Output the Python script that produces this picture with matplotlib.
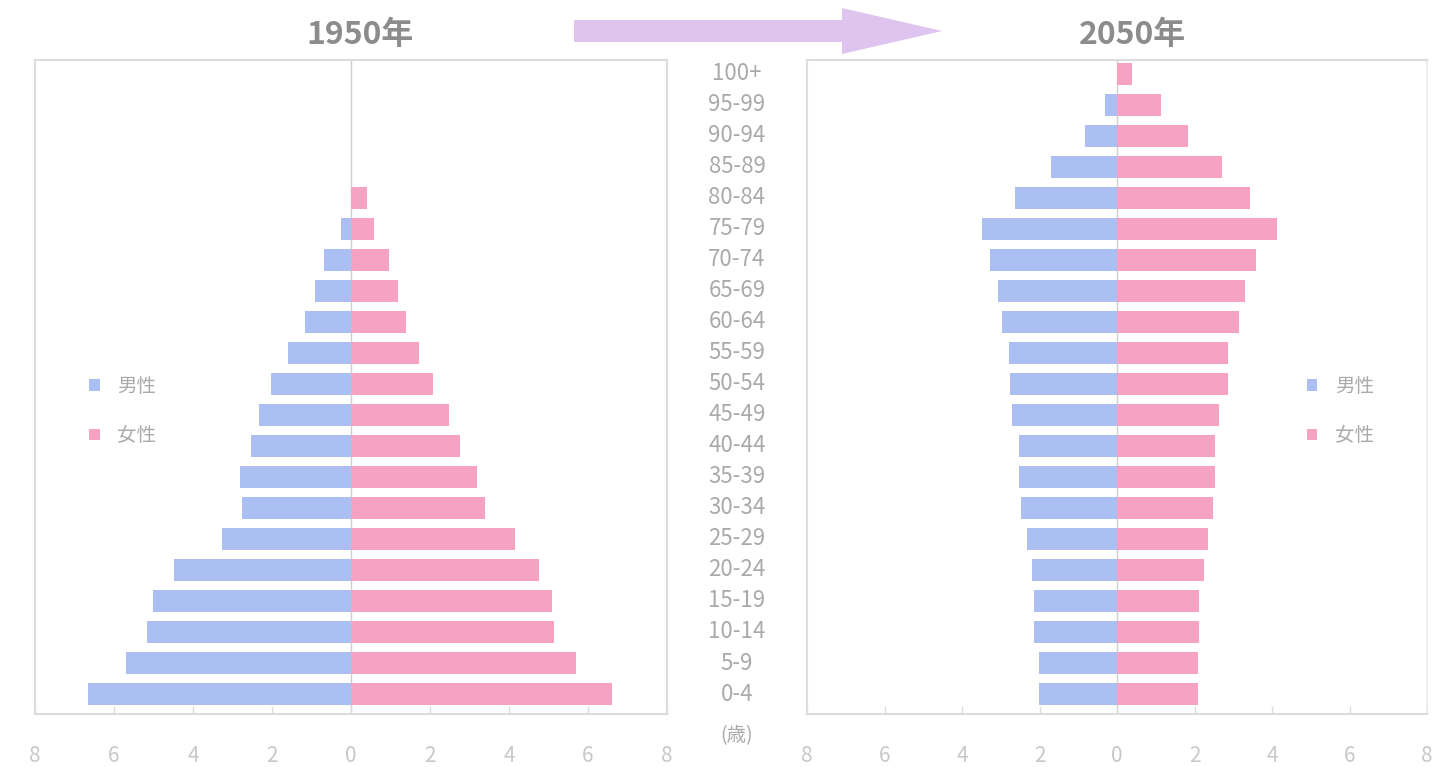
import matplotlib
matplotlib.use("Agg")
import matplotlib.pyplot as plt
from matplotlib.patches import Polygon
from matplotlib.ticker import FuncFormatter, FixedLocator
import matplotlib.transforms as mtransforms

plt.rcParams['font.family'] = ['Noto Sans CJK JP', 'DejaVu Sans']

# Age groups, youngest first
age_groups = ["0-4", "5-9", "10-14", "15-19", "20-24", "25-29", "30-34",
              "35-39", "40-44", "45-49", "50-54", "55-59", "60-64", "65-69",
              "70-74", "75-79", "80-84", "85-89", "90-94", "95-99", "100+"]

# Share of total population (%) by age group
male_1950 = [6.67, 5.70, 5.16, 5.01, 4.48, 3.27, 2.75, 2.80, 2.52, 2.34, 2.02,
             1.59, 1.16, 0.90, 0.68, 0.25, 0.0, 0.0, 0.0, 0.0, 0.0]
female_1950 = [6.62, 5.69, 5.14, 5.09, 4.76, 4.16, 3.40, 3.20, 2.75, 2.47, 2.07,
               1.71, 1.39, 1.19, 0.97, 0.58, 0.40, 0.0, 0.0, 0.0, 0.0]
male_2050 = [2.02, 2.02, 2.14, 2.14, 2.19, 2.32, 2.47, 2.52, 2.52, 2.70, 2.75,
             2.80, 2.97, 3.07, 3.27, 3.48, 2.64, 1.71, 0.83, 0.30, 0.0]
female_2050 = [2.09, 2.09, 2.12, 2.12, 2.24, 2.34, 2.47, 2.52, 2.52, 2.64, 2.87,
               2.87, 3.15, 3.30, 3.58, 4.13, 3.43, 2.72, 1.84, 1.13, 0.38]

years = ["1950年", "2050年"]
legend_labels = ["男性", "女性"]
x_ticks = [-8, -6, -4, -2, 0, 2, 4, 6, 8]
age_unit = "(歳)"

MALE_COLOR = "#abbff2"
FEMALE_COLOR = "#f6a2c2"
SPINE_COLOR = "#dcdcdc"
TICK_COLOR = "#c8c8c8"
LABEL_COLOR = "#aaaaaa"
TITLE_COLOR = "#8c8c8c"

W, H = 1435, 767
fig = plt.figure(figsize=(W / 100, H / 100), dpi=100)
fig.patch.set_facecolor("white")


def px_rect(x0, x1, y_top, y_bottom):
    return [x0 / W, (H - y_bottom) / H, (x1 - x0) / W, (y_bottom - y_top) / H]


ax_left = fig.add_axes(px_rect(35, 667, 60, 714))
ax_right = fig.add_axes(px_rect(807, 1427, 60, 714))

ypos = list(range(len(age_groups)))

panels = [(ax_left, male_1950, female_1950, (0.07, 0.463)),
          (ax_right, male_2050, female_2050, (0.79, 0.463))]

for ax, male, female, leg_anchor in panels:
    ax.axvline(0, color="#cfcfcf", lw=1.0, zorder=1)
    hm = ax.barh(ypos, [-v for v in male], height=0.7, color=MALE_COLOR,
                 edgecolor="none", zorder=2, label=legend_labels[0])
    hf = ax.barh(ypos, female, height=0.7, color=FEMALE_COLOR,
                 edgecolor="none", zorder=2, label=legend_labels[1])
    ax.set_xlim(-8, 8)
    ax.set_ylim(-0.645, 20.45)
    ax.set_yticks([])
    ax.xaxis.set_major_locator(FixedLocator(x_ticks))
    ax.xaxis.set_major_formatter(FuncFormatter(lambda v, p: f"{abs(v):g}"))
    ax.tick_params(axis="x", direction="in", length=6, width=1,
                   color=SPINE_COLOR, labelcolor=TICK_COLOR,
                   labelsize=15, pad=22)
    for s in ax.spines.values():
        s.set_color(SPINE_COLOR)
        s.set_linewidth(1.5)
    leg = ax.legend(handles=[hm, hf], loc="center left",
                    bbox_to_anchor=leg_anchor, frameon=False,
                    fontsize=14, handlelength=0.55, handleheight=0.55,
                    handletextpad=0.9, labelspacing=1.45, borderpad=0)
    for t in leg.get_texts():
        t.set_color(LABEL_COLOR)

ax_right.spines["right"].set_color("#eeeeee")

# Age-group labels in the gap between the two pyramids
label_tf = mtransforms.blended_transform_factory(fig.transFigure, ax_left.transData)
for i, lab in enumerate(age_groups):
    ax_left.text(737 / W, i, lab, transform=label_tf, ha="center", va="center",
                 fontsize=16, color=LABEL_COLOR, clip_on=False)
ax_left.text(737 / W, -1.33, age_unit, transform=label_tf, ha="center",
             va="center", fontsize=14, color=LABEL_COLOR, clip_on=False)

# Year titles
fig.text(360 / W, 1 - 35 / H, years[0], ha="center", va="center",
         fontsize=23, fontweight="bold", color=TITLE_COLOR)
fig.text(1133 / W, 1 - 35 / H, years[1], ha="center", va="center",
         fontsize=23, fontweight="bold", color=TITLE_COLOR)

# Arrow between the two years
px = mtransforms.Affine2D().scale(1 / W, 1 / H) + fig.transFigure
arrow_pts = [(574, H - 20), (842, H - 20), (842, H - 8), (942, H - 31),
             (842, H - 54), (842, H - 42), (574, H - 42)]
fig.patches.append(Polygon(arrow_pts, closed=True, transform=px,
                           facecolor="#dfc4f0", edgecolor="none"))

fig.savefig("out.png", dpi=100, facecolor="white")
